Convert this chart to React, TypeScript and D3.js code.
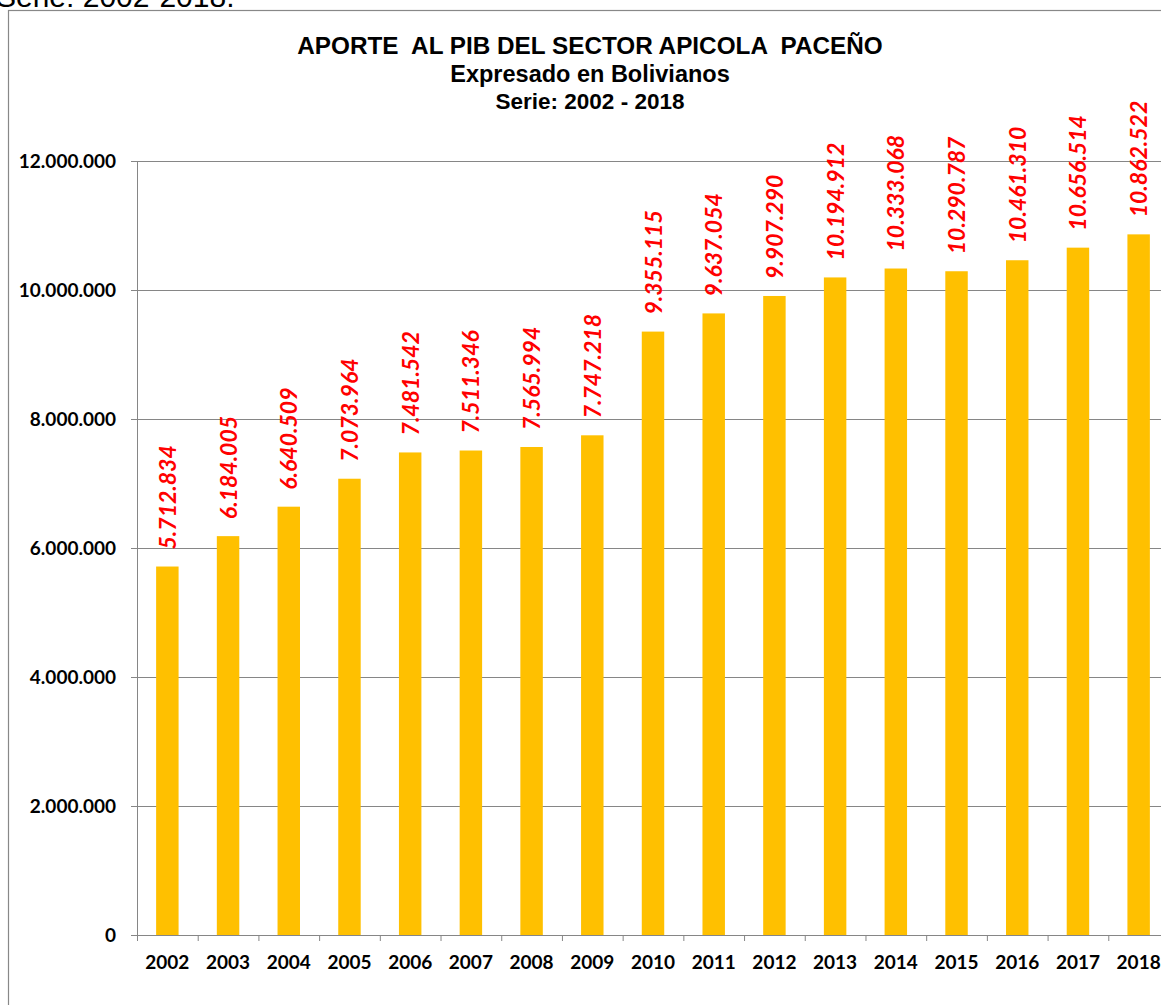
import React from "react";
import * as d3 from "d3";

const years = ["2002","2003","2004","2005","2006","2007","2008","2009","2010","2011","2012","2013","2014","2015","2016","2017","2018"];
const values = [5712834,6184005,6640509,7073964,7481542,7511346,7565994,7747218,9355115,9637054,9907290,10194912,10333068,10290787,10461310,10656514,10862522];
const yTicks = [0,2000000,4000000,6000000,8000000,10000000,12000000];
const titleLines = ["APORTE  AL PIB DEL SECTOR APICOLA  PACEÑO","Expresado en Bolivianos","Serie: 2002 - 2018"];
const titleSizes = [24.3, 23.5, 22.5];

const fmt = (v: number) => v === 0 ? "0" : d3.format(",")(v).replace(/,/g, ".");

export default function App() {
  const W = 1161, H = 1005;
  const left = 137, right = 1169, top = 161, bottom = 935;
  const x = d3.scaleBand<string>().domain(years).range([left, right]).paddingInner(0.63).paddingOuter(0.315);
  const xb = d3.scaleBand<string>().domain(years).range([left, right]);
  const y = d3.scaleLinear().domain([0, 12000000]).range([bottom, top]);
  const grid = "#868686";
  return (
    <svg width={W} height={H} style={{position:"absolute", left:0, top:0}}>
      <rect x={0} y={0} width={W} height={H} fill="#fff" />
      <text x={-4} y={7} fontFamily="Liberation Sans, Arial" fontSize={30} fill="#000">Serie: 2002-2018.</text>
      <rect x={8.5} y={10.5} width={1200} height={1100} fill="none" stroke="#888" strokeWidth={1.2} />
      {titleLines.map((t, i) => (
        <text key={i} x={590} y={54 + i * 27.5} textAnchor="middle" fontFamily="Liberation Sans, Arial" fontWeight="bold" fontSize={titleSizes[i]} fill="#000" style={{whiteSpace: "pre"}}>{t}</text>
      ))}
      {yTicks.map(t => (
        <g key={t}>
          <line x1={131} x2={right} y1={y(t) + 0.5} y2={y(t) + 0.5} stroke={grid} strokeWidth={1} />
          <text x={116} y={y(t)} dy="0.35em" textAnchor="end" fontFamily="Lato, sans-serif" fontWeight="bold" fontSize={19} fill="#000">{fmt(t)}</text>
        </g>
      ))}
      <line x1={left + 0.5} x2={left + 0.5} y1={top} y2={bottom + 6} stroke={grid} strokeWidth={1} />
      {years.map((yr, i) => i > 0 ? (
        <line key={yr} x1={(xb(yr) as number) + 0.5} x2={(xb(yr) as number) + 0.5} y1={bottom} y2={bottom + 6} stroke={grid} strokeWidth={1} />
      ) : null)}
      {years.map((yr, i) => {
        const bx = x(yr) as number;
        const cx = bx + x.bandwidth() / 2;
        return (
          <g key={yr}>
            <rect x={bx} y={y(values[i])} width={x.bandwidth()} height={bottom - y(values[i])} fill="#FFC000" />
            <text transform={`translate(${cx + 8.5},${y(values[i]) - 17}) rotate(-90)`} fontFamily="Lato, sans-serif" fontWeight="bold" fontStyle="italic" fontSize={23} fill="#FF0000">{fmt(values[i])}</text>
            <text x={(xb(yr) as number) + xb.bandwidth() / 2} y={969} textAnchor="middle" fontFamily="Lato, sans-serif" fontWeight="bold" fontSize={19} fill="#000">{yr}</text>
          </g>
        );
      })}
    </svg>
  );
}
